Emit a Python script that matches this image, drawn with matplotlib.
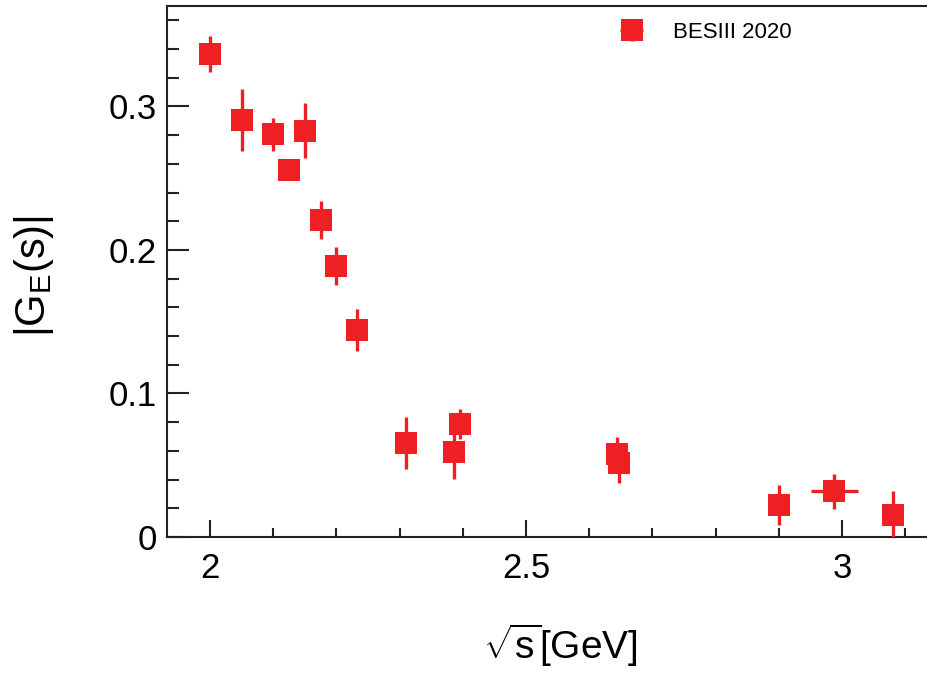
import matplotlib
matplotlib.use('Agg')
import matplotlib.pyplot as plt
from matplotlib.ticker import MultipleLocator

plt.rcParams['font.family'] = ['Liberation Sans', 'DejaVu Sans']
plt.rcParams['mathtext.fontset'] = 'custom'
plt.rcParams['mathtext.rm'] = 'Liberation Sans'
plt.rcParams['mathtext.it'] = 'Liberation Sans:italic'

######################################################################

# BESIII 2020 |G_E| points
sqrt_s = [2.0, 2.05, 2.1, 2.125, 2.15, 2.175, 2.2, 2.2324, 2.3094,
          2.3864, 2.396, 2.6444, 2.6464, 2.9, 2.988, 3.08]
ge     = [0.3365, 0.2907, 0.2806, 0.2556, 0.2832, 0.2208, 0.1888, 0.1444,
          0.0655, 0.0593, 0.0785, 0.058, 0.0515, 0.0225, 0.0318, 0.0155]
ge_err = [0.0125, 0.0217, 0.0116, 0.0030, 0.0194, 0.0132, 0.0130, 0.0145,
          0.0178, 0.0190, 0.0105, 0.0117, 0.0140, 0.0140, 0.0120, 0.0164]
s_err  = [0, 0, 0, 0, 0, 0, 0, 0, 0, 0, 0, 0, 0, 0, 0.0377, 0]

red = '#ee2024'

######################################################################

fig = plt.figure(figsize = (9.28, 6.75), dpi = 100)
ax = fig.add_axes([167 / 928, 138 / 675, 1 - 167 / 928, 531 / 675])

ax.errorbar(sqrt_s, ge, yerr = ge_err, xerr = s_err, fmt = 's',
            color = red, markersize = 16, markeredgewidth = 0,
            elinewidth = 2.4, capsize = 3.2, capthick = 2.6,
            label = 'BESIII 2020', zorder = 3)

ax.set_xlim(1.932, 3.136)
ax.set_ylim(0, 0.37)

ax.xaxis.set_minor_locator(MultipleLocator(0.1))
ax.yaxis.set_minor_locator(MultipleLocator(0.02))
ax.set_xticks([2, 2.5, 3])
ax.set_xticklabels(['2', '2.5', '3'])
ax.set_yticks([0, 0.1, 0.2, 0.3])
ax.set_yticklabels(['0', '0.1', '0.2', '0.3'])

ax.tick_params(which = 'both', direction = 'in', labelsize = 25, width = 1.5,
               color = '#222222')
ax.tick_params(axis = 'y', which = 'major', length = 16, pad = 7)
ax.tick_params(axis = 'y', which = 'minor', length = 8.5)
ax.tick_params(axis = 'x', which = 'major', length = 12.5, pad = 11)
ax.tick_params(axis = 'x', which = 'minor', length = 6.5)

for side in ['left', 'bottom', 'top']:
    ax.spines[side].set_linewidth(1.5)
    ax.spines[side].set_color('#222222')
ax.spines['right'].set_visible(False)

ax.set_xlabel(r'$\sqrt{\mathrm{s}}$[GeV]', fontsize = 28)
ax.set_ylabel(r'|G$_{\mathrm{E}}$(s)|', fontsize = 30)
ax.xaxis.set_label_coords((560 - 167) / 761, -(622 - 537) / 531)
ax.yaxis.set_label_coords(-(167 - 56) / 761, (537 - 276) / 531)

leg = ax.legend(loc = 'upper left', bbox_to_anchor = (0.555, 1.008),
                frameon = False, fontsize = 16, handletextpad = 0.85,
                numpoints = 1)

fig.savefig('out.png', dpi = 100)
